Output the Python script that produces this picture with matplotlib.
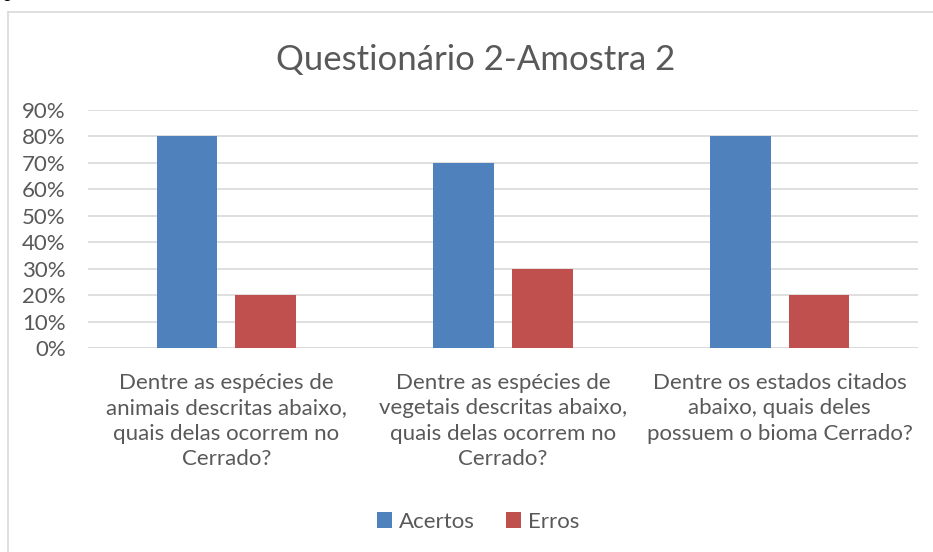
import matplotlib.pyplot as plt
import numpy as np

categories = [
    "Dentre as espécies de\nanimais descritas abaixo,\nquais delas ocorrem no\nCerrado?",
    "Dentre as espécies de\nvegetais descritas abaixo,\nquais delas ocorrem no\nCerrado?",
    "Dentre os estados citados\nabaixo, quais deles\npossuem o bioma Cerrado?",
]
acertos = [0.80, 0.70, 0.80]
erros = [0.20, 0.30, 0.20]
yticks = [0, 0.1, 0.2, 0.3, 0.4, 0.5, 0.6, 0.7, 0.8, 0.9]

plt.rcParams['font.family'] = ['Lato', 'DejaVu Sans']
txt = '#595959'

fig = plt.figure(figsize=(9.33, 5.52), dpi=100)
ax = fig.add_axes([88/933, 1 - 348/552, (918-88)/933, (348-110)/552])

x = np.arange(len(categories))
w = 0.22
ax.bar(x - 0.142, acertos, w, color='#4F81BD', label='Acertos', zorder=3)
ax.bar(x + 0.142, erros, w, color='#C0504D', label='Erros', zorder=3)

ax.set_xlim(-0.5, 2.5)
ax.set_ylim(0, 0.9)
ax.set_yticks(yticks)
ax.set_yticklabels([f"{int(round(v*100))}%" for v in yticks], color=txt, fontsize=16)
ax.set_xticks(x)
ax.set_xticklabels(categories, color=txt, fontsize=16, linespacing=1.33, va='top')
ax.tick_params(length=0, pad=16, axis='y')
ax.tick_params(length=0, pad=18, axis='x')
ax.grid(axis='y', color='#D9D9D9', linewidth=1.2, zorder=0)
for s in ax.spines.values():
    s.set_visible(False)
ax.axhline(0, color='#D9D9D9', linewidth=1.2, zorder=1)

fig.text(476/933, 1 - 60/552, 'Questionário 2-Amostra 2', ha='center', va='center',
         fontsize=25, color=txt)

fig.legend(loc='center', bbox_to_anchor=(478/933, 1 - 522/552), ncol=2, frameon=False,
           fontsize=16, labelcolor=txt, handlelength=0.7, handleheight=0.7,
           handletextpad=0.3, columnspacing=1.4)

# chart border (left and top edges visible)
fig.add_artist(plt.Line2D([8/933, 8/933], [0, 1 - 12/552], color='#D9D9D9', lw=1.2))
fig.add_artist(plt.Line2D([8/933, 1], [1 - 12/552, 1 - 12/552], color='#D9D9D9', lw=1.2))
fig.text(2/933, 1 + 4/552, '6', fontsize=13, color='black', va='center')

fig.savefig('out.png', dpi=100)
